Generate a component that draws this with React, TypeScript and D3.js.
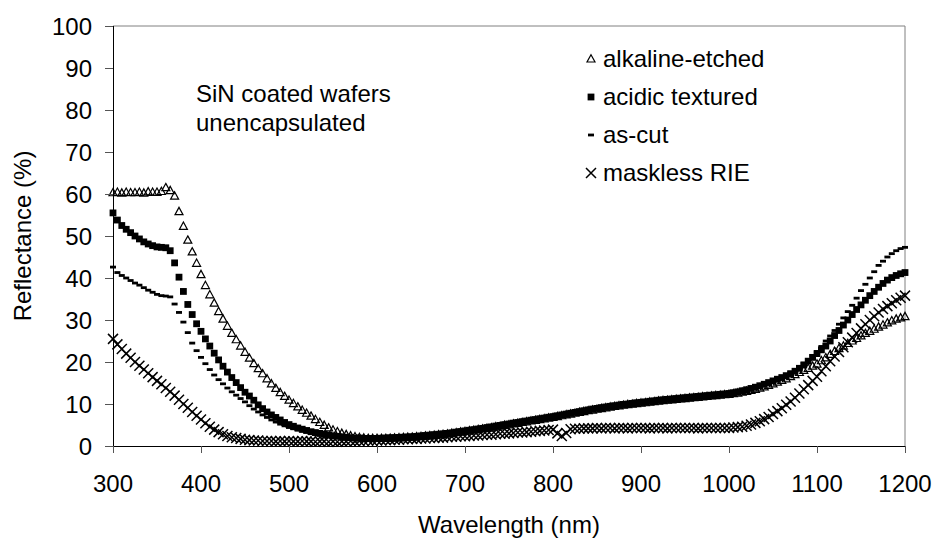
import * as d3 from 'd3';

const width = 934;
const height = 542;
const margin = { top: 26, right: 29, bottom: 96, left: 113 };
const font = '"Liberation Sans", Arial, sans-serif';

// wavelength grid of the measurement, nm
const wavelengths = d3.range(300, 1201, 5);
const xTicks = [300, 400, 500, 600, 700, 800, 900, 1000, 1100, 1200];
const yTicks = [0, 10, 20, 30, 40, 50, 60, 70, 80, 90, 100];

// reflectance in %, one row per 50 nm
const alkalineEtched = [
  60.3, 60.4, 60.2, 60.4, 60.3, 60.3, 60.4, 60.2, 60.5, 60.4,
  60.4, 60.6, 61.5, 60.8, 59.5, 55.8, 52.3, 49.0, 46.2, 43.5,
  40.8, 38.2, 36.0, 34.0, 32.0, 30.2, 28.5, 26.8, 25.3, 23.8,
  22.3, 20.9, 19.6, 18.4, 17.2, 16.0, 14.8, 13.7, 12.7, 11.8,
  10.9, 10.1, 9.3, 8.5, 7.8, 7.1, 6.3, 5.6, 4.9, 4.3,
  3.8, 3.4, 3.0, 2.7, 2.4, 2.2, 2.0, 1.9, 1.8, 1.8,
  1.8, 1.8, 1.8, 1.85, 1.9, 1.95, 2.0, 2.05, 2.1, 2.2,
  2.25, 2.35, 2.45, 2.55, 2.65, 2.75, 2.85, 3.0, 3.15, 3.3,
  3.45, 3.6, 3.75, 3.9, 4.05, 4.2, 4.35, 4.55, 4.7, 4.9,
  5.05, 5.25, 5.4, 5.6, 5.75, 5.95, 6.1, 6.3, 6.45, 6.65,
  6.8, 7.0, 7.2, 7.4, 7.6, 7.8, 8.0, 8.2, 8.4, 8.55,
  8.75, 8.9, 9.1, 9.25, 9.4, 9.55, 9.7, 9.85, 9.95, 10.1,
  10.2, 10.3, 10.45, 10.55, 10.7, 10.8, 10.9, 11.0, 11.1, 11.2,
  11.3, 11.4, 11.5, 11.6, 11.7, 11.8, 11.9, 12.0, 12.1, 12.2,
  12.3, 12.45, 12.6, 12.8, 13.0, 13.25, 13.5, 13.8, 14.1, 14.45,
  14.8, 15.2, 15.6, 16.0, 16.5, 17.0, 17.5, 18.0, 18.5, 19.0,
  19.5, 20.3, 21.0, 21.8, 22.5, 23.2, 23.8, 24.4, 25.0, 25.6,
  26.2, 26.8, 27.3, 27.8, 28.3, 28.8, 29.3, 29.8, 30.2, 30.5,
  30.8,
];

const acidicTextured = [
  55.5, 53.8, 52.5, 51.6, 50.8, 50.0, 49.3, 48.6, 48.1, 47.7,
  47.4, 47.3, 47.2, 46.5, 43.6, 40.2, 36.8, 33.7, 31.3, 29.1,
  27.3, 25.5, 23.8, 22.1, 20.5, 19.0, 17.6, 16.3, 15.1, 13.9,
  12.8, 11.9, 10.9, 9.8, 8.9, 8.1, 7.4, 6.8, 6.2, 5.6,
  5.1, 4.7, 4.3, 4.0, 3.7, 3.4, 3.2, 3.0, 2.8, 2.6,
  2.4, 2.3, 2.2, 2.1, 2.0, 1.9, 1.9, 1.8, 1.8, 1.8,
  1.8, 1.85, 1.9, 1.95, 2.0, 2.05, 2.1, 2.15, 2.2, 2.3,
  2.4, 2.5, 2.6, 2.7, 2.8, 2.9, 3.0, 3.15, 3.3, 3.45,
  3.6, 3.75, 3.9, 4.05, 4.2, 4.4, 4.55, 4.75, 4.9, 5.1,
  5.25, 5.45, 5.6, 5.8, 5.95, 6.15, 6.3, 6.5, 6.65, 6.85,
  7.0, 7.2, 7.4, 7.6, 7.8, 8.0, 8.2, 8.4, 8.6, 8.8,
  8.95, 9.15, 9.3, 9.45, 9.6, 9.75, 9.9, 10.0, 10.15, 10.3,
  10.4, 10.5, 10.65, 10.75, 10.9, 11.0, 11.1, 11.2, 11.3, 11.4,
  11.5, 11.6, 11.7, 11.8, 11.9, 12.0, 12.1, 12.2, 12.3, 12.4,
  12.5, 12.7, 12.9, 13.15, 13.4, 13.7, 14.0, 14.35, 14.7, 15.1,
  15.5, 15.9, 16.3, 16.75, 17.2, 17.8, 18.5, 19.3, 20.2, 21.1,
  22.0, 22.9, 23.8, 25.0, 26.3, 27.5, 28.8, 30.0, 31.3, 32.5,
  33.6, 34.7, 35.8, 36.8, 37.8, 38.7, 39.5, 40.1, 40.6, 41.0,
  41.3,
];

const asCut = [
  42.6, 41.3, 40.6, 40.0, 39.4, 38.8, 38.3, 37.7, 37.1, 36.6,
  36.1, 35.8, 35.7, 35.5, 33.8, 31.8, 29.5, 27.0, 24.5, 22.7,
  21.1, 19.6, 18.2, 16.9, 15.8, 14.8, 13.8, 12.9, 12.1, 11.3,
  10.5, 9.6, 8.8, 8.1, 7.4, 6.8, 6.2, 5.7, 5.2, 4.8,
  4.4, 4.1, 3.8, 3.5, 3.3, 3.0, 2.8, 2.6, 2.4, 2.3,
  2.2, 2.1, 2.0, 1.9, 1.8, 1.8, 1.7, 1.7, 1.6, 1.6,
  1.6, 1.65, 1.7, 1.75, 1.8, 1.85, 1.9, 1.95, 2.0, 2.1,
  2.2, 2.3, 2.4, 2.5, 2.6, 2.7, 2.8, 2.95, 3.1, 3.25,
  3.4, 3.55, 3.7, 3.85, 4.0, 4.2, 4.35, 4.55, 4.7, 4.9,
  5.05, 5.25, 5.4, 5.6, 5.75, 5.95, 6.1, 6.3, 6.45, 6.65,
  6.8, 7.0, 7.2, 7.4, 7.6, 7.8, 8.0, 8.2, 8.4, 8.6,
  8.75, 8.95, 9.1, 9.25, 9.4, 9.55, 9.7, 9.85, 10.0, 10.1,
  10.2, 10.35, 10.45, 10.6, 10.7, 10.8, 10.9, 11.0, 11.1, 11.2,
  11.3, 11.4, 11.5, 11.6, 11.7, 11.8, 11.9, 12.0, 12.1, 12.2,
  12.4, 12.6, 12.8, 13.1, 13.4, 13.7, 14.0, 14.4, 14.8, 15.2,
  15.6, 16.0, 16.5, 17.0, 17.6, 18.2, 18.9, 19.7, 20.6, 21.5,
  22.5, 23.7, 25.0, 26.2, 27.5, 29.0, 30.5, 32.0, 33.5, 35.2,
  37.0, 38.5, 40.0, 41.5, 43.0, 44.0, 45.0, 45.8, 46.5, 47.0,
  47.3,
];

const masklessRIE = [
  25.5, 24.2, 23.1, 22.0, 21.0, 20.0, 19.1, 18.2, 17.3, 16.4,
  15.5, 14.7, 13.8, 12.9, 12.0, 11.0, 10.0, 9.1, 8.1, 7.2,
  6.3, 5.4, 4.6, 3.9, 3.3, 2.8, 2.4, 2.1, 1.9, 1.7,
  1.5, 1.4, 1.3, 1.3, 1.2, 1.2, 1.2, 1.1, 1.2, 1.1,
  1.2, 1.1, 1.1, 1.2, 1.1, 1.1, 1.0, 1.1, 1.1, 1.0,
  1.1, 1.0, 1.1, 1.1, 1.2, 1.1, 1.2, 1.2, 1.3, 1.2,
  1.3, 1.3, 1.4, 1.4, 1.5, 1.5, 1.6, 1.6, 1.7, 1.7,
  1.8, 1.8, 1.9, 1.9, 2.0, 2.0, 2.1, 2.2, 2.2, 2.3,
  2.3, 2.4, 2.5, 2.5, 2.6, 2.7, 2.7, 2.8, 2.9, 2.9,
  3.0, 3.1, 3.2, 3.2, 3.3, 3.4, 3.5, 3.6, 3.7, 3.8,
  3.9, 3.0, 2.4, 3.1, 4.0, 4.1, 4.1, 4.2, 4.2, 4.2,
  4.3, 4.2, 4.3, 4.3, 4.2, 4.3, 4.3, 4.2, 4.3, 4.3,
  4.3, 4.3, 4.2, 4.3, 4.3, 4.3, 4.2, 4.3, 4.3, 4.3,
  4.3, 4.3, 4.3, 4.2, 4.3, 4.3, 4.3, 4.3, 4.3, 4.3,
  4.3, 4.4, 4.5, 4.6, 4.8, 5.1, 5.5, 5.9, 6.4, 6.9,
  7.6, 8.3, 9.0, 9.8, 10.6, 11.5, 12.5, 13.5, 14.5, 15.5,
  16.5, 17.8, 19.0, 20.2, 21.3, 22.4, 23.5, 24.7, 25.8, 26.9,
  28.0, 29.0, 30.0, 30.9, 31.8, 32.6, 33.3, 34.0, 34.7, 35.3,
  35.8,
];

const seriesNames = ['alkaline-etched', 'acidic textured', 'as-cut', 'maskless RIE'];
const seriesValues = [alkalineEtched, acidicTextured, asCut, masklessRIE];
const seriesMarkers = ['triangle', 'square', 'dash', 'cross'];

function Marker({ type, x, y }: { type: string; x: number; y: number }) {
  const t = `translate(${x},${y})`;
  if (type === 'triangle')
    return <path transform={t} d="M0,-4.3L4,3L-4,3Z" fill="none" stroke="#000" strokeWidth={1.2} />;
  if (type === 'square') return <rect transform={t} x={-3.4} y={-3.4} width={6.8} height={6.8} fill="#000" />;
  if (type === 'dash') return <rect transform={t} x={-3} y={-1.4} width={6} height={2.8} fill="#000" />;
  return <path transform={t} d="M-5,-5L5,5M-5,5L5,-5" stroke="#000" strokeWidth={1.5} fill="none" />;
}

export default function App() {
  const x = d3.scaleLinear().domain([300, 1200]).range([margin.left, width - margin.right]);
  const y = d3.scaleLinear().domain([0, 100]).range([height - margin.bottom, margin.top]);
  const [x0, x1] = x.range();
  const [y0, y1] = y.range();

  return (
    <div style={{ position: 'fixed', left: 0, top: 0 }}>
      <svg width={width} height={height} style={{ display: 'block', background: '#fff' }} fontFamily={font}>
        {/* plot area frame */}
        <line x1={x0} x2={x1} y1={y1} y2={y1} stroke="#808080" />
        <line x1={x1} x2={x1} y1={y1} y2={y0} stroke="#808080" />

        {/* series, later ones drawn on top */}
        {seriesValues.map((vals, s) => (
          <g key={seriesNames[s]}>
            {vals.map((v, i) => (
              <Marker key={i} type={seriesMarkers[s]} x={x(wavelengths[i])} y={y(v)} />
            ))}
          </g>
        ))}

        {/* axes */}
        <line x1={x0} x2={x1} y1={y0 + 0.5} y2={y0 + 0.5} stroke="#000" />
        <line x1={x0 + 0.5} x2={x0 + 0.5} y1={y1} y2={y0} stroke="#000" />
        {yTicks.map((t) => (
          <g key={t}>
            <line x1={x0 - 8} x2={x0} y1={y(t) + 0.5} y2={y(t) + 0.5} stroke="#555" />
            <text x={x0 - 21} y={y(t)} dy="0.36em" textAnchor="end" fontSize={24}>
              {t}
            </text>
          </g>
        ))}
        {xTicks.map((t) => (
          <g key={t}>
            <line x1={x(t) + 0.5} x2={x(t) + 0.5} y1={y0} y2={y0 + 7} stroke="#555" />
            <text x={x(t)} y={y0 + 46} textAnchor="middle" fontSize={24}>
              {t}
            </text>
          </g>
        ))}

        <text x={(x0 + x1) / 2} y={533} textAnchor="middle" fontSize={24}>
          Wavelength (nm)
        </text>
        <text transform={`translate(31,${(y0 + y1) / 2}) rotate(-90)`} textAnchor="middle" fontSize={24}>
          Reflectance (%)
        </text>

        {/* annotation */}
        <text x={196} y={102} fontSize={24}>SiN coated wafers</text>
        <text x={196} y={131} fontSize={24}>unencapsulated</text>

        {/* legend */}
        {seriesNames.map((name, s) => (
          <g key={name} transform={`translate(0,${67 + s * 38})`}>
            <Marker type={seriesMarkers[s]} x={591} y={-8} />
            <text x={603} y={0} fontSize={24}>
              {name}
            </text>
          </g>
        ))}
      </svg>
    </div>
  );
}
